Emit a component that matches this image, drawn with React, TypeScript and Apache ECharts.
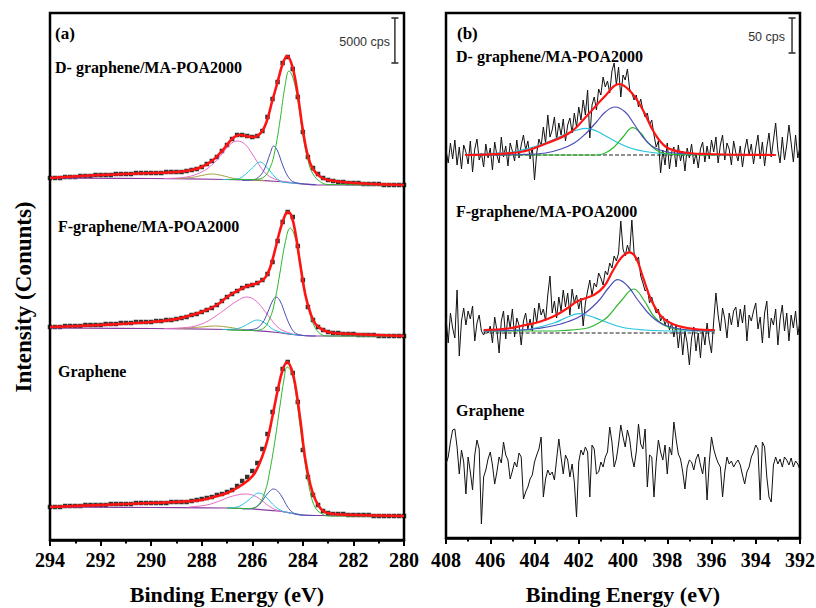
import React, { useEffect, useRef } from "react";
import * as echarts from "echarts";

// ---------- Panel (a): C1s, binding energy 294 -> 280 eV, step 0.2 eV ----------
const eA: number[] = Array.from({ length: 71 }, (_, i) => Math.round((294 - 0.2 * i) * 10) / 10);
const ticksA = [294, 292, 290, 288, 286, 284, 282, 280];
const ticksB = [408, 406, 404, 402, 400, 398, 396, 394, 392];

const aTopData = [
  362, 362, 362, 363, 363, 363, 364, 364, 364, 365, 365, 365, 365, 366, 366, 366, 366, 367, 367, 367, 367,
  367, 367, 368, 368, 368, 368, 369, 370, 371, 373, 376, 379, 383, 389, 395, 401, 405, 405, 404, 403,
  404, 409, 423, 441, 458, 477, 483, 471, 443, 408, 383, 372, 366, 362, 360, 359, 358, 358, 357, 357,
  357, 356, 356, 356, 356, 355, 355, 355, 355, 355,
];
const aMidData = [
  213, 213, 213, 214, 214, 214, 214, 215, 215, 215, 215, 216, 216, 216, 217, 217, 217, 218, 218, 218, 218,
  219, 219, 220, 220, 221, 222, 223, 225, 226, 228, 230, 232, 235, 239, 243, 246, 249, 252, 254, 255,
  257, 260, 266, 278, 299, 318, 328, 323, 294, 260, 233, 220, 213, 210, 208, 207, 207, 206, 206, 206,
  205, 205, 205, 205, 204, 204, 204, 204, 204, 204,
];
const aBotData = [
  33, 33, 33, 34, 34, 34, 34, 35, 35, 35, 35, 35, 36, 36, 36, 36, 36, 37, 37, 37, 37,
  37, 37, 37, 38, 38, 38, 38, 39, 40, 41, 42, 43, 45, 46, 48, 50, 54, 59, 63, 69,
  77, 91, 106, 128, 151, 171, 178, 167, 138, 90, 63, 45, 35, 29, 27, 26, 26, 26, 25, 25,
  25, 25, 25, 24, 24, 24, 24, 24, 24, 24,
];

// fits and components: [eV, intensity]
const aTopFit = [[294, 362], [292, 365], [290, 367], [289, 368], [288.4, 370], [288, 373], [287.6, 379], [287.2, 389], [286.8, 401], [286.5, 405], [286.0, 403], [285.8, 404], [285.5, 414], [285.2, 440], [285.0, 458], [284.8, 476], [284.62, 484], [284.4, 472], [284.2, 445], [284.0, 410], [283.8, 384], [283.6, 371], [283.3, 363], [283.0, 360], [282, 357], [280, 355]];
const aTopBase = [[294, 362], [290, 361.5], [287, 360.5], [286, 360], [285, 358.5], [284.4, 357], [284, 356], [283.4, 355], [280, 355]];
const aTopGreen = [[287, 360.5], [286, 360.5], [285.6, 362], [285.3, 372], [285.1, 390], [284.9, 420], [284.7, 455], [284.55, 469], [284.4, 463], [284.2, 440], [284.0, 405], [283.8, 380], [283.6, 366], [283.3, 358], [283, 355.5], [280, 355]];
const aTopBlue = [[286.4, 359.5], [286.0, 360], [285.7, 364], [285.5, 372], [285.3, 386], [285.15, 394], [285.0, 389], [284.8, 375], [284.6, 364], [284.4, 358.5], [284.1, 356.5], [283.5, 355.5]];
const aTopCyan = [[287.2, 360.5], [286.6, 361], [286.3, 365], [286.0, 372], [285.7, 378], [285.4, 372], [285.1, 363], [284.8, 358], [284.4, 357], [284, 356]];
const aTopPink = [[289.5, 361.5], [288.6, 363], [288.0, 368], [287.6, 375], [287.2, 386], [286.9, 395], [286.6, 399], [286.3, 396], [286.0, 386], [285.7, 374], [285.4, 365], [285.0, 360], [284.6, 358], [284, 356]];
const aTopOlive = [[289.0, 361.5], [288.4, 362.5], [288.0, 364.5], [287.6, 366], [287.2, 364.5], [286.8, 362], [286.3, 360.5], [285.5, 359.5]];

const aMidFit = [[294, 213], [292, 215], [290, 218], [289, 221], [288.4, 225], [288, 228], [287.4, 235], [287, 243], [286.6, 249], [286.2, 254], [285.8, 257], [285.5, 262], [285.3, 272], [285.1, 290], [284.9, 310], [284.7, 325], [284.58, 328], [284.45, 324], [284.3, 308], [284.1, 275], [283.9, 245], [283.7, 227], [283.5, 216], [283.2, 210], [282.8, 207], [282, 206], [280, 204]];
const aMidBase = [[294, 212], [290, 211.5], [287, 210.5], [286, 209.5], [285, 207.5], [284.4, 205.5], [284, 204.5], [283.4, 204], [280, 204]];
const aMidGreen = [[287, 210], [286, 209.5], [285.6, 211], [285.3, 222], [285.1, 240], [284.9, 268], [284.7, 297], [284.5, 312], [284.35, 306], [284.15, 285], [283.95, 254], [283.75, 229], [283.55, 214], [283.3, 206], [283, 204], [280, 204]];
const aMidBlue = [[286.4, 210], [285.9, 211], [285.6, 217], [285.4, 227], [285.2, 239], [285.06, 243], [284.9, 239], [284.7, 226], [284.5, 214], [284.3, 207], [284.0, 204.5], [283.5, 204]];
const aMidCyan = [[287.2, 210.5], [286.7, 211], [286.4, 213], [286.1, 217], [285.8, 220], [285.5, 217], [285.2, 211], [284.9, 208], [284.5, 206], [284, 204.5]];
const aMidPink = [[289.5, 211.5], [288.6, 212.5], [288.0, 216], [287.5, 223], [287.0, 232], [286.6, 239], [286.22, 243], [285.9, 240], [285.6, 232], [285.3, 222], [285.0, 213], [284.7, 208.5], [284.3, 205.5], [283.8, 204.3]];
const aMidOlive = [[289, 211.5], [288, 213], [287.5, 214], [287, 213], [286.3, 210]];

const aBotFit = [[294, 33], [292, 35], [290, 37], [289, 38], [288, 40], [287.4, 44], [287, 47], [286.6, 52], [286.2, 59], [285.9, 67], [285.6, 84], [285.4, 100], [285.2, 124], [285.0, 149], [284.8, 170], [284.62, 178], [284.45, 171], [284.3, 155], [284.1, 120], [283.9, 80], [283.7, 55], [283.5, 40], [283.2, 29], [282.8, 26], [282, 25], [280, 24]];
const aBotBase = [[294, 33], [290, 32.5], [287, 32], [286, 31], [285, 29], [284.4, 26.5], [284, 25], [283.4, 24.5], [280, 24]];
const aBotGreen = [[287, 32], [286.2, 31.5], [285.8, 34], [285.5, 48], [285.3, 70], [285.1, 100], [284.9, 135], [284.75, 160], [284.62, 173], [284.45, 168], [284.3, 150], [284.1, 112], [283.9, 75], [283.7, 47], [283.5, 32], [283.2, 25.5], [283, 24], [280, 24]];
const aBotBlue = [[286.4, 31], [286.0, 31.5], [285.7, 36], [285.5, 43], [285.3, 49], [285.17, 51], [285.0, 49], [284.8, 42], [284.6, 33], [284.4, 27.5], [284.1, 25], [283.5, 24.5]];
const aBotCyan = [[287, 32], [286.6, 33], [286.3, 37], [286.0, 43], [285.76, 47], [285.5, 44], [285.2, 36], [284.9, 30], [284.5, 27], [284, 25]];
const aBotPink = [[288.5, 33], [287.8, 35], [287.3, 39], [286.9, 43], [286.5, 45.5], [286.29, 46], [286.0, 45], [285.7, 41], [285.4, 35], [285.1, 30.5], [284.7, 28], [284.2, 25.5]];

// ---------- Panel (b): N1s, 408 -> 392 eV, step 0.1 eV (values relative to each trace's baseline) ----------
const eB: number[] = Array.from({ length: 161 }, (_, i) => Math.round((408 - 0.1 * i) * 10) / 10);
const bOffsets = [383, 205, 71];

const bTopData = [
  5, -8, 12, -4, 15, -10, 8, -14, 10, 3,
  -9, 14, -17, 6, 16, -5, 2, -12, 11, -3,
  7, -15, 13, 0, -8, 18, -2, 9, -11, 12,
  4, -6, 15, -3, 10, 20, 5, 14, -4, 8,
  -25, 2, 16, 9, 28, 12, 40, 18, 25, 38,
  15, 32, 20, 36, 14, 30, 37, 22, 42, 28,
  48, 35, 55, 40, 65, 17, 50, 58, 45, 66,
  60, 78, 68, 74, 62, 84, 92, 70, 88, 58,
  80, 75, 86, 66, 62, 55, 60, 48, 56, 45,
  38, 42, 30, 35, 20, 8, 14, -18, 5, -10,
  12, -14, 3, 8, -12, 10, -6, 4, -16, 7,
  -3, 11, -9, 2, -13, 6, 13, -7, 9, -4,
  15, 3, 18, -8, 10, 20, -5, 12, 6, -10,
  14, 2, -6, 9, -12, 5, 16, 0, 11, -9,
  7, 20, -4, 13, -11, 8, 22, -2, 15, 32,
  5, -8, 18, -5, 10, 30, 12, -7, 20, -3,
  8,
];
const bMidData = [
  15, -10, 20, 5, -5, 43, -23, 12, 25, 8,
  22, 14, 27, -8, 10, 18, 2, -2, 4, 0,
  7, -10, 16, 3, -20, 12, 22, -6, 18, 5,
  24, -4, 15, 8, -12, 12, 20, 4, 14, 2,
  25, 10, 30, 18, 24, 12, 38, 57, 20, 32,
  15, 36, 22, 43, 26, 40, 18, 44, 30, 38,
  24, 35, 7, 30, 42, 53, 38, 50, 46, 60,
  55, 48, 62, 58, 70, 65, 77, 72, 80, 112,
  84, 77, 88, 80, 113, 80, 72, 76, 57, 50,
  42, 45, 30, 36, 27, 20, 24, 12, 17, 8,
  14, 3, 10, -4, 8, -15, 5, -22, 2, -10,
  -32, -5, 6, -18, 0, -25, 4, -12, 10, -8,
  -20, 12, 40, 18, 2, 25, 14, -5, 20, 8,
  22, 26, 6, 24, 10, 28, -8, 18, 12, 22,
  30, 4, 16, -10, 20, 32, -5, 15, 8, 24,
  -12, 14, 28, 2, 20, -8, 18, 5, 22, -2,
  12,
];
const bBotData = [
  3, 10, 25, 37, 38, 20, -7, 17, 5, -27,
  10, -5, -23, 12, 27, 18, -57, -10, -3, 8,
  15, 2, -17, -5, 10, 4, 25, 12, 7, -12,
  -4, 5, 0, 14, 10, -32, -25, -20, -12, -8,
  5, 12, 18, 30, -30, -12, -3, -8, -5, -13,
  8, 28, 10, -7, 12, 7, -10, 3, -15, -50,
  5, 17, 12, 20, 15, -30, 22, 18, -7, -5,
  5, 0, 10, 15, 40, 25, 0, 8, 23, 42,
  30, 20, 37, 28, 10, 0, 15, 43, 23, 18,
  38, -20, 12, 10, -30, 5, 27, 15, 7, 22,
  -7, 20, 12, 45, 28, 13, 8, -5, -22, 0,
  7, 5, -3, 8, 13, 2, -7, 10, -33, 5,
  30, 18, 10, 4, 0, -30, -5, 10, 3, 6,
  0, 4, 7, 2, -8, -17, -5, 0, 10, 15,
  22, 18, -33, 25, 20, -10, -30, -35, 2, 10,
  3, 8, 0, 10, 7, 2, 9, 0, 6, 3,
  -3,
];

const bTopFit = [[407.14, 0], [404.64, 3], [403.42, 12], [402.36, 23], [401.6, 40], [400.85, 58], [400.17, 71], [399.64, 63], [399.1, 45], [398.58, 22], [398.05, 8], [397.36, 3], [396.3, 1], [393.1, 0]];
const bTopBlue = [[407.14, 0], [404.6, 0.5], [403.5, 2], [402.8, 6], [402.2, 12], [401.7, 21], [401.2, 33], [400.8, 43], [400.36, 48], [399.9, 43], [399.5, 31], [399.1, 18], [398.7, 9], [398.2, 4], [397.4, 1.5], [396, 0.5], [393.1, 0]];
const bTopCyan = [[407.14, 0.5], [406, 1.5], [405, 3], [404.2, 7], [403.4, 13], [402.6, 21], [402.0, 25.5], [401.68, 26.7], [401.2, 24], [400.7, 18], [400.2, 12], [399.6, 6.5], [399, 3.5], [398.2, 1.5], [397, 0.5], [393.1, 0]];
const bTopGreen = [[407.14, 0], [401.2, 0], [400.8, 2], [400.4, 8], [400.0, 18], [399.56, 27.3], [399.2, 22], [398.9, 13], [398.5, 5], [398.1, 1.5], [397.5, 0.3], [393.1, 0]];
const bTopBase = [[407.14, 0], [393.12, 0]];

const bMidFit = [[406.3, 3], [405.2, 4.5], [404.6, 7], [403.8, 11], [403.1, 17], [402.5, 25], [402.06, 31.7], [401.3, 38.3], [400.85, 46.7], [400.47, 61.7], [400.09, 75], [399.71, 80.7], [399.41, 75], [399.11, 56.7], [398.73, 33.3], [398.27, 16.7], [397.67, 8.3], [396.76, 4], [395.85, 3]];
const bMidBlue = [[406.3, 2], [404.6, 3], [403.88, 4.5], [402.82, 9], [401.91, 17], [401.15, 31], [400.62, 46], [400.24, 53.3], [399.79, 47], [399.33, 33], [398.73, 17], [398.12, 8], [397.06, 3], [395.85, 2]];
const bMidGreen = [[406.3, 2], [403.5, 2], [402.67, 2.5], [401.6, 5], [401.1, 10], [400.7, 16], [400.09, 32], [399.52, 44], [399.03, 32], [398.58, 16], [397.97, 6], [397.06, 3], [395.85, 2]];
const bMidCyan = [[406.3, 2], [405, 2.5], [404.18, 4], [403.12, 10], [402.5, 16], [401.98, 19.3], [401.5, 17], [401.0, 13], [400.09, 6], [399, 3], [397.5, 2], [395.85, 2]];
const bMidBase = [[406.3, 0], [395.85, 0]];

// scale bars: [eV, intensity] end points (5000 cps in (a), 50 cps in (b))
const scaleBarA = [[280.36, 477], [280.36, 522]];
const scaleBarB = [[392.36, 485], [392.36, 520]];

const SERIF = "Liberation Serif";
const SANS = "Liberation Sans";
const C = {
  red: "#ff1414",
  green: "#2eb82e",
  blue: "#4c4cb8",
  cyan: "#27c3de",
  pink: "#e46cc8",
  olive: "#a8a03a",
  base: "#8a3a9e",
};

function lineS(data: number[][], color: string, axis: number, width = 1, z = 3, smooth: number | boolean = 0.4, type: string = "solid") {
  return {
    type: "line",
    xAxisIndex: axis,
    yAxisIndex: axis,
    data,
    smooth,
    symbol: "none",
    showSymbol: false,
    silent: true,
    z,
    lineStyle: { color, width, type },
  };
}

function squares(values: number[]) {
  return {
    type: "scatter",
    xAxisIndex: 0,
    yAxisIndex: 0,
    data: values.map((v, i) => [eA[i], v]),
    symbol: "rect",
    symbolSize: 4.5,
    itemStyle: { color: "#000" },
    silent: true,
    z: 2,
  };
}

const shift = (pairs: number[][], off: number) => pairs.map(([e, v]) => [e, v + off]);
const noisy = (values: number[], off: number) => values.map((v, i) => [eB[i], v + off]);

function scaleBar(data: number[][], axis: number) {
  return {
    type: "line",
    xAxisIndex: axis,
    yAxisIndex: axis,
    data,
    symbol: "rect",
    symbolSize: [7, 1.6],
    showSymbol: true,
    silent: true,
    itemStyle: { color: "#333" },
    lineStyle: { color: "#333", width: 1.5 },
    z: 5,
  };
}

function xAxisCfg(grid: number, min: number, max: number) {
  return {
    type: "value",
    gridIndex: grid,
    min,
    max,
    interval: 2,
    inverse: true,
    axisLine: { show: true, onZero: false, lineStyle: { color: "#000", width: 2.5 } },
    axisTick: { show: true, inside: false, length: 6, lineStyle: { color: "#000", width: 2 } },
    minorTick: { show: true, splitNumber: 2, length: 3.5, lineStyle: { color: "#000", width: 2 } },
    axisLabel: { show: false },
    splitLine: { show: false },
    minorSplitLine: { show: false },
  };
}

function txt(text: string, x: number, y: number, size: number, opts: any = {}) {
  return {
    type: "text",
    x,
    y,
    rotation: opts.rotation || 0,
    silent: true,
    z: 10,
    style: {
      text,
      fill: opts.fill || "#000",
      fontFamily: opts.family || SERIF,
      fontWeight: opts.weight || "bold",
      fontSize: size,
      align: opts.align || "left",
      verticalAlign: "middle",
    },
  };
}

export default function App() {
  const ref = useRef<HTMLDivElement>(null);
  useEffect(() => {
    if (!ref.current) return;
    const chart = echarts.init(ref.current, undefined, { renderer: "svg" });
    const series: any[] = [
      // panel (a)
      squares(aTopData), squares(aMidData), squares(aBotData),
      lineS(aTopBase, C.base, 0, 1.2), lineS(aMidBase, C.base, 0, 1.2), lineS(aBotBase, C.base, 0, 1.2),
      lineS(aTopOlive, C.olive, 0), lineS(aMidOlive, C.olive, 0),
      lineS(aTopPink, C.pink, 0), lineS(aMidPink, C.pink, 0), lineS(aBotPink, C.pink, 0),
      lineS(aTopCyan, C.cyan, 0), lineS(aMidCyan, C.cyan, 0), lineS(aBotCyan, C.cyan, 0),
      lineS(aTopBlue, C.blue, 0), lineS(aMidBlue, C.blue, 0), lineS(aBotBlue, C.blue, 0),
      lineS(aTopGreen, C.green, 0), lineS(aMidGreen, C.green, 0), lineS(aBotGreen, C.green, 0),
      lineS(aTopFit, C.red, 0, 2.6, 4), lineS(aMidFit, C.red, 0, 2.6, 4), lineS(aBotFit, C.red, 0, 2.6, 4),
      scaleBar(scaleBarA, 0),
      // panel (b)
      lineS(noisy(bTopData, bOffsets[0]), "#111", 1, 1, 2, false),
      lineS(noisy(bMidData, bOffsets[1]), "#111", 1, 1, 2, false),
      lineS(noisy(bBotData, bOffsets[2]), "#111", 1, 1, 2, false),
      lineS(shift(bTopBase, bOffsets[0]), "#222", 1, 1, 3, false, "dashed"),
      lineS(shift(bMidBase, bOffsets[1]), "#222", 1, 1, 3, false, "dashed"),
      lineS(shift(bTopCyan, bOffsets[0]), C.cyan, 1, 1.2),
      lineS(shift(bMidCyan, bOffsets[1]), C.cyan, 1, 1.2),
      lineS(shift(bTopGreen, bOffsets[0]), C.green, 1, 1.2),
      lineS(shift(bMidGreen, bOffsets[1]), C.green, 1, 1.2),
      lineS(shift(bTopBlue, bOffsets[0]), C.blue, 1, 1.2),
      lineS(shift(bMidBlue, bOffsets[1]), C.blue, 1, 1.2),
      lineS(shift(bTopFit, bOffsets[0]), C.red, 1, 2.2, 4),
      lineS(shift(bMidFit, bOffsets[1]), C.red, 1, 2.2, 4),
      scaleBar(scaleBarB, 1),
    ];

    chart.setOption({
      animation: false,
      backgroundColor: "#fff",
      grid: [
        { left: 50, top: 13, width: 354, height: 527, show: true, borderColor: "#000", borderWidth: 2.5, backgroundColor: "transparent" },
        { left: 446, top: 13, width: 354, height: 525, show: true, borderColor: "#000", borderWidth: 2.5, backgroundColor: "transparent" },
      ],
      xAxis: [xAxisCfg(0, 280, 294), xAxisCfg(1, 392, 408)],
      yAxis: [
        { type: "value", gridIndex: 0, min: 0, max: 527, show: false },
        { type: "value", gridIndex: 1, min: 0, max: 525, show: false },
      ],
      series,
    });

    // tick labels and axis titles placed through the axes' own scales
    const px = (axis: number, v: number) => chart.convertToPixel({ xAxisIndex: axis } as any, v) as unknown as number;
    const tickTexts: any[] = [];
    ticksA.forEach((t) => tickTexts.push(txt(String(t), px(0, t), 560, 20, { align: "center" })));
    ticksB.forEach((t) => tickTexts.push(txt(String(t), px(1, t), 560, 20, { align: "center" })));
    const midA = (px(0, 294) + px(0, 280)) / 2;
    const midB = (px(1, 408) + px(1, 392)) / 2;

    chart.setOption({
      graphic: [
        ...tickTexts,
        txt("Binding Energy (eV)", midA, 594, 22, { align: "center" }),
        txt("Binding Energy (eV)", midB, 594, 22, { align: "center" }),
        txt("(a)", 55, 33, 17),
        txt("D- graphene/MA-POA2000", 55, 67, 16),
        txt("F-graphene/MA-POA2000", 58, 226, 16),
        txt("Graphene", 58, 371, 16),
        txt("(b)", 457, 33, 17),
        txt("D- graphene/MA-POA2000", 456, 56, 16),
        txt("F-graphene/MA-POA2000", 456, 211, 16),
        txt("Graphene", 456, 410, 16),
        txt("5000 cps", 390, 42, 12.5, { family: SANS, weight: "normal", align: "right", fill: "#333" }),
        txt("50 cps", 785, 37, 12.5, { family: SANS, weight: "normal", align: "right", fill: "#333" }),
        txt("Intensity (Conunts)", 23, 297, 23, { align: "center", rotation: Math.PI / 2 }),
      ],
    });
    return () => chart.dispose();
  }, []);
  return <div ref={ref} style={{ position: "absolute", left: 0, top: 0, width: 816, height: 608 }} />;
}
